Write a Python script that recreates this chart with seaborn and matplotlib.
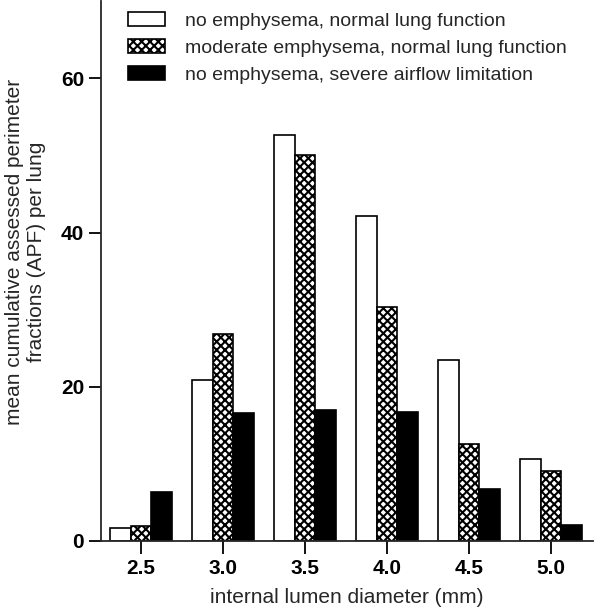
import matplotlib
matplotlib.use("Agg")
import matplotlib.pyplot as plt
import seaborn as sns
import pandas as pd

# data
diameters = ["2.5", "3.0", "3.5", "4.0", "4.5", "5.0"]
groups = ["no emphysema, normal lung function",
          "moderate emphysema, normal lung function",
          "no emphysema, severe airflow limitation"]
no_emph_normal = [1.7, 20.9, 52.7, 42.2, 23.5, 10.6]
mod_emph_normal = [2.0, 26.8, 50.1, 30.3, 12.6, 9.1]
no_emph_severe = [6.4, 16.6, 17.0, 16.7, 6.7, 2.1]

df = pd.DataFrame({
    "diameter": diameters * 3,
    "group": [groups[0]] * 6 + [groups[1]] * 6 + [groups[2]] * 6,
    "apf": no_emph_normal + mod_emph_normal + no_emph_severe,
})

sns.set_style("ticks")
plt.rcParams["font.family"] = ["Liberation Sans", "DejaVu Sans"]
plt.rcParams["hatch.linewidth"] = 1.5

fig = plt.figure(figsize=(6, 6.13), dpi=100)
ax = fig.add_axes([0.168, 0.1175, 0.82, 0.8805])

sns.barplot(data=df, x="diameter", y="apf", hue="group", order=diameters,
            hue_order=groups, palette=["white", "white", "black"],
            width=0.75, gap=0, edgecolor="black", linewidth=1.2,
            saturation=1, errorbar=None, legend=False, ax=ax)

# checkered fill for the middle series
for patch in ax.containers[1]:
    patch.set_hatch("xxxx")

ax.set_ylim(0, 70)
ax.set_xlim(-0.49, 5.51)
ax.set_yticks([0, 20, 40, 60])
ax.tick_params(axis="both", direction="out", length=9, width=1.3,
               labelsize=15, colors="black")
ax.tick_params(axis="x", pad=4)
ax.tick_params(axis="y", pad=3)
for lab in ax.get_xticklabels() + ax.get_yticklabels():
    lab.set_fontweight("bold")
for side in ["top", "right"]:
    ax.spines[side].set_visible(False)
for side in ["left", "bottom"]:
    ax.spines[side].set_linewidth(1.3)

ax.set_xlabel("internal lumen diameter (mm)", fontsize=15, labelpad=7)
ax.set_ylabel("mean cumulative assessed perimeter\nfractions (APF) per lung",
              fontsize=15, labelpad=2)
ax.yaxis.set_label_coords(-0.111, 0.535)

ax.legend(handles=ax.containers, labels=groups, loc="upper left",
          bbox_to_anchor=(0.02, 1.012), frameon=False, fontsize=14,
          handlelength=1.9, handleheight=0.75, handletextpad=1.0,
          labelspacing=0.46)

fig.savefig("out.png", dpi=100)
